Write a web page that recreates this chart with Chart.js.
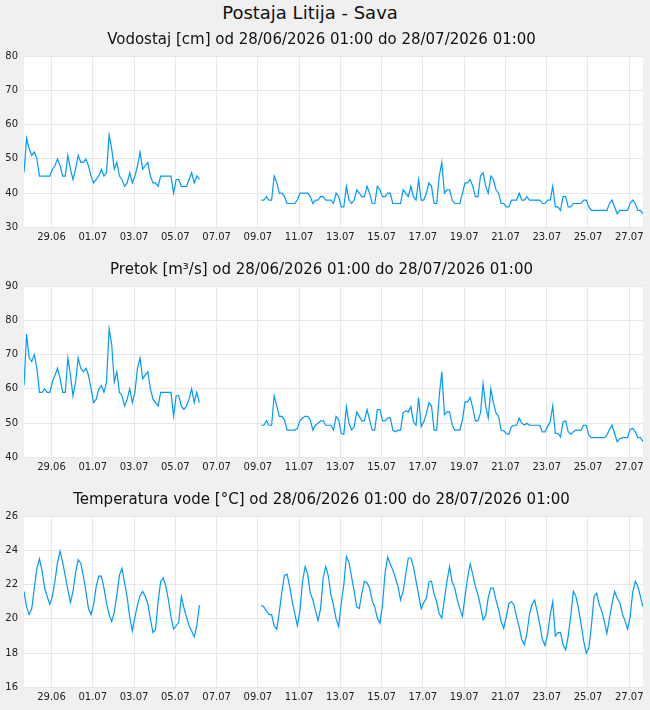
<!DOCTYPE html>
<html lang="sl">
<head>
<meta charset="utf-8">
<title>Postaja Litija - Sava</title>
<script src="https://cdn.jsdelivr.net/npm/chart.js@4.4.1/dist/chart.umd.min.js"></script>
<style>
  html, body { margin: 0; padding: 0; background: #f0f0f0; overflow: hidden; }
  #titulo { position: absolute; left: 0; top: 0; width: 620px; text-align: center; font: 18px "DejaVu Sans", sans-serif; line-height: 26px; color: #111; }
  .panel { position: absolute; left: 0; width: 650px; height: 225px; }
</style>
</head>
<body>
<div id="titulo">Postaja Litija - Sava</div>
<div class="panel" style="top:25px"><canvas id="grafica-1"></canvas></div>
<div class="panel" style="top:255px"><canvas id="grafica-2"></canvas></div>
<div class="panel" style="top:485px"><canvas id="grafica-3"></canvas></div>
<script>
// oznake na osi x (ure od 28/06/2026 01:00)
const uraOznak = [32, 80, 128, 176, 224, 272, 320, 368, 416, 464, 512, 560, 608, 656, 704];
const oznakeDatumov = ["29.06", "01.07", "03.07", "05.07", "07.07", "09.07", "11.07", "13.07",
  "15.07", "17.07", "19.07", "21.07", "23.07", "25.07", "27.07"];

// vodostaj [cm], vsake 3 ure, null = ni podatkov
const vodostaj = [
  46, 56, 53, 51, 52, 50, 45, 45, 45, 45, 45, 47, 48, 50, 48, 45, 45, 51, 47, 44,
  47, 51, 49, 49, 50, 48, 45, 43, 44, 45, 47, 45, 46, 57, 53, 47, 49, 45, 44, 42,
  43, 46, 43, 45, 48, 52, 47, 48, 49, 45, 43, 43, 42, 45, 45, 45, 45, 45, 40, 44,
  44, 42, 42, 42, 44, 46, 43, 45, 44,
  null, null, null, null, null, null, null, null, null, null, null, null,
  null, null, null, null, null, null, null, null, null, null, null,
  38, 38, 39, 38, 38, 45, 43, 40, 40, 39,
  37, 37, 37, 37, 38, 40, 40, 40, 40, 39,
  37, 38, 38, 39, 39, 38, 38, 38, 37, 40,
  39, 36, 36, 42, 38, 37, 38, 41, 40, 39,
  39, 42, 40, 37, 37, 42, 41, 39, 39, 40,
  40, 37, 37, 37, 37, 41, 40, 39, 42, 39,
  38, 44, 38, 38, 40, 43, 42, 37, 37, 45,
  49, 40, 41, 41, 38, 37, 37, 37, 40, 43,
  43, 44, 42, 39, 39, 45, 46, 42, 40, 45,
  44, 41, 40, 37, 37, 36, 36, 38, 38, 38,
  40, 38, 38, 39, 38, 38, 38, 38, 38, 37,
  37, 38, 38, 42, 36, 36, 35, 39, 39, 36,
  36, 37, 37, 37, 37, 38, 38, 36, 35, 35,
  35, 35, 35, 35, 35, 37, 38, 36, 34, 35,
  35, 35, 35, 37, 38, 37, 35, 35, 34
];

// pretok [m³/s]
const pretok = [
  61, 76, 69, 68, 70, 66, 59, 59, 60, 59, 59, 62, 64, 66, 63, 59, 59, 69, 64, 58,
  62, 69, 66, 65, 66, 64, 60, 56, 57, 60, 61, 59, 62, 77.5, 73, 62, 65, 59, 58, 55,
  57, 60, 56, 59, 66, 69, 63, 64, 65, 60, 57, 56, 55, 59, 59, 59, 59, 59, 52, 58,
  58, 55, 54, 55, 57, 60, 56, 59, 56,
  null, null, null, null, null, null, null, null, null, null, null, null,
  null, null, null, null, null, null, null, null, null, null, null,
  49.4, 49.4, 50.7, 49.4, 49.4, 58, 55, 52, 52, 51,
  48, 48, 48, 48, 48.5, 50.7, 51.5, 52, 52, 51,
  48, 49.4, 50, 50.7, 50.7, 49.4, 49.4, 49.4, 48, 52,
  51, 47, 46.8, 54.8, 50, 48, 49, 53.3, 52, 50.7,
  50.7, 54, 51, 48, 48, 54, 54, 50.7, 50.7, 51.5,
  51.6, 48, 47.5, 48, 48, 53, 53.6, 53.3, 54.8, 50.4,
  49.4, 57.5, 49, 50.4, 52.8, 56, 55, 48, 48, 58,
  65, 52.5, 53.3, 53.3, 49.5, 48, 48, 48, 51, 56.2,
  56.2, 57.5, 54.5, 50.7, 50.7, 53, 61.5, 55, 51.5, 60,
  56, 53, 52, 48, 47.8, 47, 46.8, 49, 49.4, 49.4,
  51.5, 50, 49.5, 50, 49.4, 49.4, 49.4, 49.4, 49.4, 47.5,
  47.5, 49, 50.4, 55, 47, 47, 46, 50.4, 50.7, 47.5,
  46.8, 47.5, 48, 48, 48, 49.4, 49.4, 46.5, 45.8, 45.8,
  45.8, 45.8, 45.8, 45.8, 46.5, 48.2, 49.4, 47, 44.6, 45.5,
  45.8, 45.8, 45.8, 48.2, 48.5, 47.5, 45.8, 45.8, 44.6
];

// temperatura vode [°C]
const temperatura = [
  21.6, 20.7, 20.25, 20.6, 21.8, 22.95, 23.5, 22.8, 21.8, 21.3,
  20.85, 21.3, 22.2, 23.3, 23.95, 23.3, 22.5, 21.7, 20.95, 21.6,
  22.7, 23.45, 23.25, 22.5, 21.6, 20.6, 20.25, 20.85, 21.9, 22.5,
  22.5, 21.8, 20.9, 20.25, 19.85, 20.4, 21.4, 22.55, 22.95, 22.1,
  21.25, 20.1, 19.3, 20.1, 20.8, 21.35, 21.6, 21.3, 20.9, 20.0,
  19.2, 19.4, 21.0, 22.2, 22.4, 21.9, 21.1, 20.1, 19.4, 19.6,
  19.8, 21.3, 20.65, 20.1, 19.6, 19.3, 18.95, 19.6, 20.8,
  null, null, null, null, null, null, null, null, null, null, null, null,
  null, null, null, null, null, null, null, null, null, null, null,
  20.8, 20.7, 20.45, 20.25, 20.25, 19.6, 19.4, 20.4, 21.6, 22.55,
  22.6, 21.9, 21.0, 20.3, 19.6, 20.5, 22.2, 23.05, 22.6, 21.5,
  21.1, 20.5, 19.9, 20.6, 22.4, 23.05, 22.5, 21.4, 20.8, 20.0,
  19.55, 20.9, 22.0, 23.65, 23.3, 22.45, 21.6, 20.7, 20.6, 21.5,
  22.2, 22.1, 21.8, 21.05, 20.7, 20.05, 19.75, 20.8, 22.7, 23.6,
  23.2, 22.85, 22.4, 21.9, 21.1, 21.6, 22.6, 23.55, 23.55, 23.05,
  22.2, 21.4, 20.6, 20.95, 21.2, 22.15, 22.2, 21.45, 21.0, 20.3,
  20.05, 21.15, 22.2, 23.05, 22.15, 21.8, 21.1, 20.6, 20.15, 21.3,
  22.4, 23.2, 22.6, 21.9, 21.4, 20.75, 19.95, 20.2, 21.25, 21.8,
  21.8, 21.1, 20.55, 19.85, 19.45, 20.15, 20.9, 21.0, 20.8, 20.1,
  19.5, 18.8, 18.5, 19.15, 20.3, 20.85, 21.1, 20.4, 19.65, 18.8,
  18.45, 19.1, 20.2, 21.0, 19.0, 19.2, 19.2, 18.5, 18.2, 19.0,
  20.2, 21.6, 21.3, 20.6, 19.7, 18.7, 18.0, 18.3, 19.6, 21.3,
  21.5, 20.85, 20.45, 19.85, 19.15, 20.05, 20.9, 21.6, 21.2, 20.95,
  20.3, 19.9, 19.4, 20.1, 21.55, 22.2, 21.9, 21.3, 20.7
];

// cas meritve v urah, korak 3 ure
const ure = [];
for (let i = 0; i < vodostaj.length; i++) ure.push(i * 3);

const colorLinea = "#0099ff";
const colorRejilla = "#e8e8e8";

Chart.defaults.font.family = "'DejaVu Sans', sans-serif";
Chart.defaults.font.size = 10;
Chart.defaults.color = "#222";

//plugin que pinta el fondo blanco del area del grafico
const fondoBlanco = {
  id: "fondoBlanco",
  beforeDraw(chart) {
    const { ctx, chartArea } = chart;
    ctx.save();
    ctx.fillStyle = "#ffffff";
    ctx.fillRect(chartArea.left, chartArea.top, chartArea.width, chartArea.height);
    ctx.restore();
  },
};

//funcion que crea un grafico
function crearGrafica(id, titulo, valores, minimo, maximo, paso) {
  const grafica = document.getElementById(id);
  new Chart(grafica, {
    type: "line",
    data: {
      labels: ure,
      datasets: [
        {
          data: valores,
          borderColor: colorLinea,
          borderWidth: 1.2,
          pointRadius: 0,
          tension: 0,
          spanGaps: false,
        },
      ],
    },
    options: {
      responsive: true,
      maintainAspectRatio: false,
      animation: false,
      layout: { padding: { left: 0, right: 7, top: 0, bottom: 0 } },
      plugins: {
        legend: { display: false },
        tooltip: { enabled: false },
        title: {
          display: true,
          text: titulo,
          color: "#111",
          font: { size: 15, weight: "normal" },
          padding: { top: 6, bottom: 7 },
        },
      },
      scales: {
        x: {
          type: "linear",
          min: 0,
          max: 720,
          afterBuildTicks: (eje) => {
            eje.ticks = uraOznak.map((v) => ({ value: v }));
          },
          afterFit: (eje) => {
            eje.height = 22.5;
          },
          ticks: {
            autoSkip: false,
            maxRotation: 0,
            padding: 4,
            callback: (v) => oznakeDatumov[uraOznak.indexOf(v)],
          },
          grid: { color: colorRejilla, drawTicks: false },
          border: { display: false },
        },
        y: {
          min: minimo,
          max: maximo,
          afterFit: (eje) => {
            eje.width = 24;
          },
          ticks: { stepSize: paso, padding: 6 },
          grid: { color: colorRejilla, drawTicks: false },
          border: { display: false },
        },
      },
    },
    plugins: [fondoBlanco],
  });
}

crearGrafica("grafica-1", "Vodostaj [cm] od 28/06/2026 01:00 do 28/07/2026 01:00", vodostaj, 30, 80, 10);
crearGrafica("grafica-2", "Pretok [m³/s] od 28/06/2026 01:00 do 28/07/2026 01:00", pretok, 40, 90, 10);
crearGrafica("grafica-3", "Temperatura vode [°C] od 28/06/2026 01:00 do 28/07/2026 01:00", temperatura, 16, 26, 2);
</script>
</body>
</html>
